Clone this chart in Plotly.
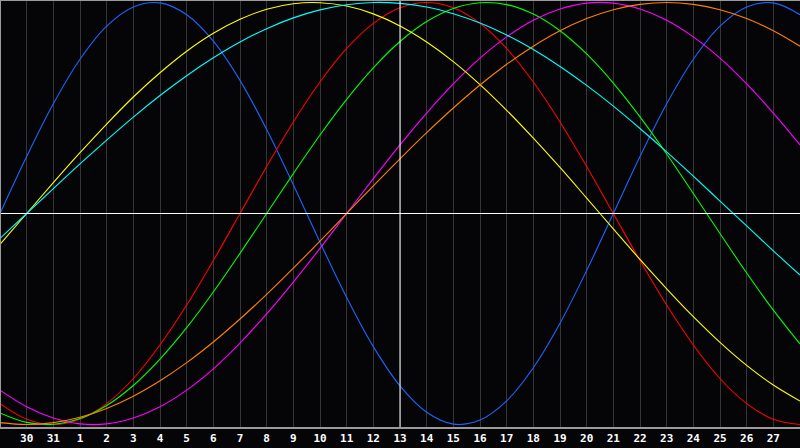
import plotly.graph_objects as go

# day index 0..30 (0 = 29th of previous month)
day_index = list(range(31))
tick_index = list(range(1, 30))
tick_labels = ["30", "31"] + [str(d) for d in range(1, 28)]
today_index = 15

physical_23 = [0, 0.270, 0.520, 0.731, 0.888, 0.979, 0.998, 0.942, 0.817, 0.631, 0.398, 0.136, -0.136, -0.398,
               -0.631, -0.817, -0.942, -0.998, -0.979, -0.888, -0.731, -0.520, -0.270, 0, 0.270, 0.520, 0.731,
               0.888, 0.979, 0.998, 0.942]
emotional_28 = [-0.901, -0.975, -1.0, -0.975, -0.901, -0.782, -0.623, -0.434, -0.223, 0, 0.223, 0.434, 0.623,
                0.782, 0.901, 0.975, 1.0, 0.975, 0.901, 0.782, 0.623, 0.434, 0.223, 0, -0.223, -0.434, -0.623,
                -0.782, -0.901, -0.975, -1.0]
intellectual_33 = [-0.945, -0.990, -0.999, -0.972, -0.910, -0.815, -0.690, -0.541, -0.372, -0.189, 0, 0.189, 0.372,
                   0.541, 0.690, 0.815, 0.910, 0.972, 0.999, 0.990, 0.945, 0.866, 0.756, 0.618, 0.458, 0.282, 0.095,
                   -0.095, -0.282, -0.458, -0.618]
intuitive_38 = [-0.837, -0.916, -0.969, -0.997, -0.997, -0.969, -0.916, -0.837, -0.736, -0.614, -0.476, -0.325,
                -0.165, 0, 0.165, 0.325, 0.476, 0.614, 0.736, 0.837, 0.916, 0.969, 0.997, 0.997, 0.969, 0.916,
                0.837, 0.736, 0.614, 0.476, 0.325]
aesthetic_43 = [-0.146, 0, 0.146, 0.288, 0.424, 0.552, 0.667, 0.769, 0.854, 0.920, 0.968, 0.994, 0.999, 0.983,
                0.946, 0.889, 0.813, 0.720, 0.611, 0.489, 0.357, 0.218, 0.073, -0.073, -0.218, -0.357, -0.489,
                -0.611, -0.720, -0.813, -0.889]
awareness_48 = [-0.991, -1.0, -0.991, -0.966, -0.924, -0.866, -0.793, -0.707, -0.609, -0.5, -0.383, -0.259, -0.131,
                0, 0.131, 0.259, 0.383, 0.5, 0.609, 0.707, 0.793, 0.866, 0.924, 0.966, 0.991, 1.0, 0.991, 0.966,
                0.924, 0.866, 0.793]
spiritual_53 = [-0.118, 0, 0.118, 0.235, 0.348, 0.457, 0.559, 0.653, 0.738, 0.813, 0.876, 0.927, 0.965, 0.989,
                1.0, 0.996, 0.979, 0.947, 0.903, 0.846, 0.777, 0.697, 0.607, 0.509, 0.403, 0.292, 0.177, 0.059,
                -0.059, -0.177, -0.292]

series = [
    ("Physical", physical_23, "#1a66ff"),
    ("Emotional", emotional_28, "#ff0000"),
    ("Intellectual", intellectual_33, "#00ff00"),
    ("Intuitive", intuitive_38, "#ff00ff"),
    ("Aesthetic", aesthetic_43, "#ffff00"),
    ("Awareness", awareness_48, "#ff8000"),
    ("Spiritual", spiritual_53, "#00ffff"),
]

fig = go.Figure()
for name, vals, col in series:
    fig.add_trace(go.Scatter(x=day_index, y=vals, mode="lines", name=name,
                             line=dict(color=col, width=1.1, shape="spline", smoothing=1.0),
                             hoverinfo="skip"))

bg = "#050508"
fig.update_layout(
    width=800, height=448,
    margin=dict(l=0, r=0, t=0, b=20),
    paper_bgcolor=bg, plot_bgcolor=bg,
    showlegend=False,
    xaxis=dict(range=[0, 30], tickvals=tick_index, ticktext=tick_labels,
               showgrid=True, gridcolor="#363636", gridwidth=1, zeroline=False,
               ticks="", showline=False, ticklabelstandoff=2,
               tickfont=dict(family="DejaVu Sans Mono", size=11, color="#ffffff", weight="bold"),
               fixedrange=True),
    yaxis=dict(range=[-1.0166, 1.0118], showgrid=False, zeroline=False, showticklabels=False,
               ticks="", showline=False, fixedrange=True),
    shapes=[
        dict(type="line", xref="paper", yref="y", x0=0, x1=1, y0=0, y1=0,
             line=dict(color="#ffffff", width=1), layer="above"),
        dict(type="line", xref="x", yref="paper", x0=today_index, x1=today_index, y0=0, y1=1,
             line=dict(color="#ffffff", width=1), layer="above"),
        dict(type="line", xref="paper", yref="paper", x0=0, x1=1, y0=0, y1=0,
             line=dict(color="#9a9a9a", width=2), layer="above"),
        dict(type="line", xref="paper", yref="paper", x0=0, x1=1, y0=1, y1=1,
             line=dict(color="#9a9a9a", width=2), layer="above"),
        dict(type="line", xref="paper", yref="paper", x0=0, x1=0, y0=0, y1=1,
             line=dict(color="#9a9a9a", width=2), layer="above"),
    ],
)

fig.write_html("out.html", config={"displayModeBar": False},
               post_script="document.body.style.margin='0';document.body.style.background='#050508';")
